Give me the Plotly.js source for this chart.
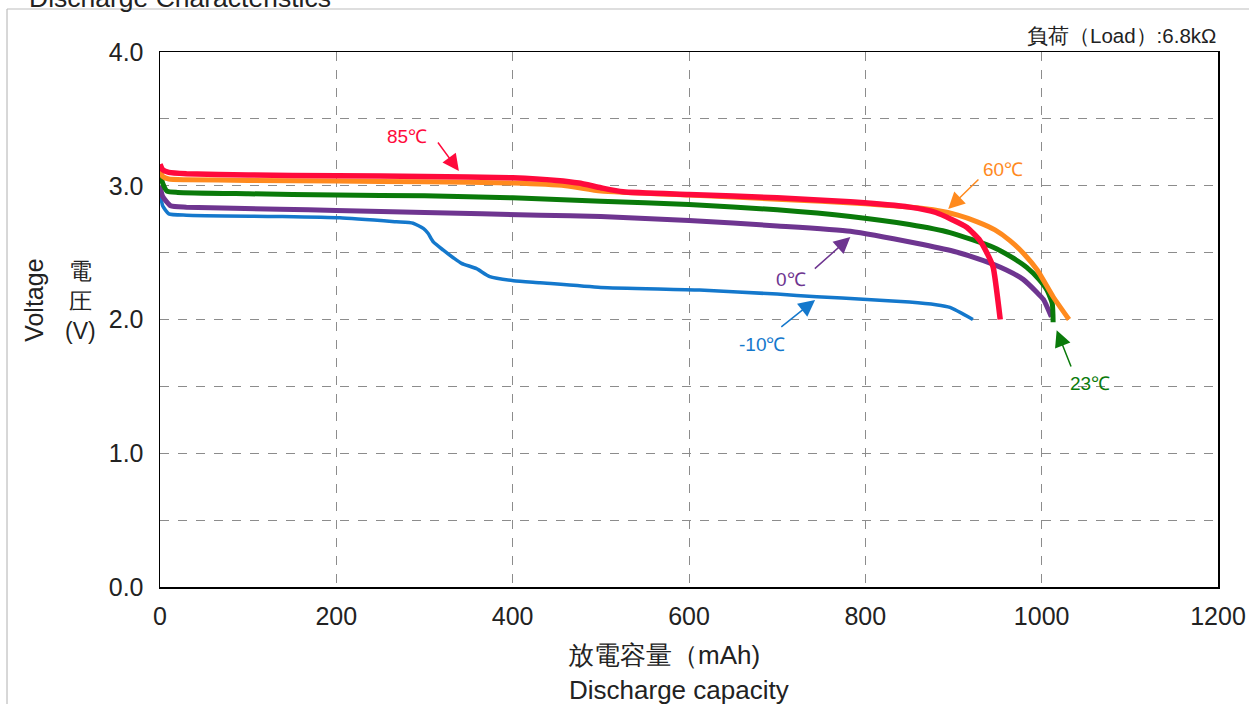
<!DOCTYPE html>
<html>
<head>
<meta charset="utf-8">
<script src="https://cdn.plot.ly/plotly-3.0.1.min.js"></script>
<style>html,body{margin:0;padding:0;background:#fff;}#chart{width:1249px;height:704px;}</style>
</head>
<body>
<div id="chart"></div>
<script>
// ---- data (capacity mAh, voltage V) ----
const series_names = ["-10℃", "0℃", "23℃", "60℃", "85℃"];
const colors = ["#1478CC", "#6E3590", "#0A7A0A", "#FF8A1E", "#FF0A3C"];

const x_m10 = [0, 3, 10, 30, 136, 204, 268, 287, 299, 304, 310, 321, 333, 342, 359, 374, 401, 431, 500, 612, 700, 745, 802, 850, 880, 896, 922];
const v_m10 = [2.96, 2.85, 2.79, 2.78, 2.77, 2.76, 2.73, 2.72, 2.68, 2.645, 2.58, 2.52, 2.46, 2.42, 2.38, 2.32, 2.29, 2.275, 2.24, 2.22, 2.19, 2.17, 2.15, 2.13, 2.11, 2.09, 2.0];

const x_0 = [0, 3, 12, 30, 136, 200, 300, 431, 500, 600, 700, 783, 858, 900, 934, 960, 979, 995, 1002, 1011];
const v_0 = [3.00, 2.92, 2.85, 2.84, 2.825, 2.815, 2.80, 2.78, 2.77, 2.74, 2.70, 2.66, 2.57, 2.51, 2.44, 2.37, 2.30, 2.20, 2.15, 2.02];

const x_23 = [0, 3, 8, 20, 100, 200, 300, 400, 500, 600, 700, 783, 850, 896, 945, 965, 983, 997, 1006, 1012, 1013];
const v_23 = [3.10, 3.02, 2.96, 2.95, 2.94, 2.93, 2.925, 2.91, 2.885, 2.86, 2.82, 2.77, 2.71, 2.65, 2.54, 2.47, 2.39, 2.30, 2.22, 2.12, 1.98];

const x_60 = [0, 3, 10, 30, 100, 200, 300, 400, 460, 500, 600, 700, 800, 877, 905, 927, 947, 964, 980, 995, 1013, 1031];
const v_60 = [3.11, 3.07, 3.05, 3.045, 3.04, 3.035, 3.03, 3.02, 3.0, 2.96, 2.93, 2.90, 2.865, 2.82, 2.78, 2.73, 2.67, 2.59, 2.49, 2.37, 2.17, 2.0];

const x_85 = [0, 3, 10, 30, 100, 200, 300, 400, 450, 475, 500, 525, 600, 700, 783, 850, 880, 915, 930, 940, 945, 953];
const v_85 = [3.16, 3.12, 3.10, 3.09, 3.08, 3.075, 3.07, 3.06, 3.04, 3.02, 2.985, 2.955, 2.935, 2.91, 2.88, 2.84, 2.80, 2.69, 2.59, 2.47, 2.39, 2.0];

const xs = [x_m10, x_0, x_23, x_60, x_85];
const vs = [v_m10, v_0, v_23, v_60, v_85];
const widths = [3.5, 5, 5, 5, 5.5];

const x_ticks = [0, 200, 400, 600, 800, 1000, 1200];
const y_ticks = [0, 1, 2, 3, 4];

// label positions (text) and arrows (tail -> tip), data coords
const label_x = [683, 716, 1055, 956, 280];
const label_v = [1.81, 2.30, 1.525, 3.118, 3.37];
const arrow_tail_x = [703, 741, 1034, 930, 314];
const arrow_tail_v = [1.936, 2.37, 1.637, 3.058, 3.335];
const arrow_tip_x = [743, 783, 1017, 894, 339];
const arrow_tip_v = [2.146, 2.617, 1.92, 2.826, 3.11];

const FONT = "Liberation Sans, Arial, sans-serif";

const traces = xs.map((x, i) => ({
  x: x, y: vs[i], type: "scatter", mode: "lines", name: series_names[i],
  line: {color: colors[i], width: widths[i], shape: "spline", smoothing: 0.5},
  hoverinfo: "skip"
}));

const annotations = [];
series_names.forEach((n, i) => {
  annotations.push({x: label_x[i], y: label_v[i], xref: "x", yref: "y", text: n, showarrow: false,
    font: {family: FONT, size: 19, color: colors[i]}});
  annotations.push({x: arrow_tip_x[i], y: arrow_tip_v[i], ax: arrow_tail_x[i], ay: arrow_tail_v[i],
    axref: "x", ayref: "y", xref: "x", yref: "y", text: "", showarrow: true,
    arrowhead: 2, arrowsize: 2.2, arrowwidth: 1.5, arrowcolor: colors[i]});
});
annotations.push({xref: "paper", yref: "paper", x: 1, y: 1.006, xanchor: "right", yanchor: "bottom",
  text: "負荷（Load）:6.8kΩ", showarrow: false, font: {family: FONT, size: 20.5, color: "#222"}});
annotations.push({xref: "paper", yref: "paper", x: -0.126, y: 1.069, xanchor: "left", yanchor: "bottom",
  text: "Discharge Characteristics", showarrow: false, font: {family: FONT, size: 26.5, color: "#222"}});
annotations.push({xref: "paper", yref: "paper", x: -0.119, y: 0.535, xanchor: "center", yanchor: "middle",
  text: "Voltage", textangle: -90, showarrow: false, font: {family: FONT, size: 25, color: "#222"}});
annotations.push({xref: "paper", yref: "paper", x: -0.075, y: 0.535, xanchor: "center", yanchor: "middle",
  text: "電<br>圧<br>(V)", showarrow: false, font: {family: FONT, size: 23, color: "#222"}});
annotations.push({xref: "paper", yref: "paper", x: 0.476, y: -0.127, xanchor: "center", yanchor: "middle",
  text: "放電容量（mAh)", showarrow: false, font: {family: FONT, size: 26, color: "#222"}});
annotations.push({xref: "paper", yref: "paper", x: 0.491, y: -0.193, xanchor: "center", yanchor: "middle",
  text: "Discharge capacity", showarrow: false, font: {family: FONT, size: 26, color: "#222"}});

const gridStyle = {showgrid: true, gridcolor: "#8c8c8c", gridwidth: 1, griddash: "dash"};

const layout = {
  width: 1249, height: 704,
  margin: {l: 160, r: 31, t: 52, b: 117},
  paper_bgcolor: "#fff", plot_bgcolor: "#fff",
  showlegend: false,
  font: {family: FONT, color: "#222"},
  xaxis: Object.assign({
    range: [0, 1200], tickvals: x_ticks, ticks: "", zeroline: false,
    showline: true, linecolor: "#000", linewidth: 1.5, mirror: true,
    tickfont: {family: FONT, size: 25, color: "#222"}, ticklabelstandoff: 6
  }, gridStyle),
  yaxis: Object.assign({
    range: [0, 4], tickvals: y_ticks, tickformat: ".1f", ticks: "", zeroline: false,
    showline: true, linecolor: "#000", linewidth: 1.5, mirror: true,
    tickfont: {family: FONT, size: 25, color: "#222"}, ticklabelstandoff: 10,
    minor: {dtick: 0.5, tick0: 0, showgrid: true, gridcolor: "#8c8c8c", gridwidth: 1, griddash: "dash"}
  }, gridStyle),
  annotations: annotations,
  shapes: [
    {type: "line", xref: "paper", yref: "paper", x0: -0.1446, x1: 1.1, y0: 1.0804, y1: 1.0804,
      line: {color: "#bdbdbd", width: 1.2}},
    {type: "line", xref: "paper", yref: "paper", x0: -0.1446, x1: -0.1446, y0: 1.0804, y1: -0.3,
      line: {color: "#bdbdbd", width: 1.2}}
  ]
};

Plotly.newPlot("chart", traces, layout, {displayModeBar: false, staticPlot: true});
</script>
</body>
</html>
